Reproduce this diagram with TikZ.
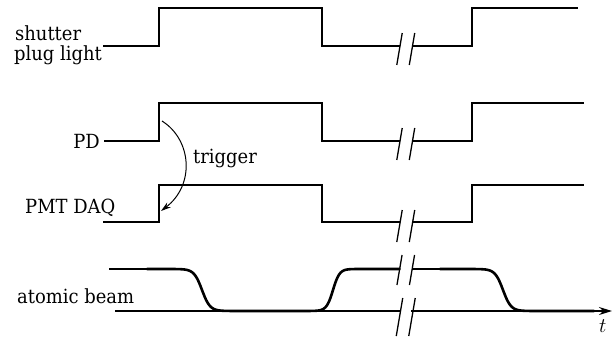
\documentclass[tikz,border=0pt]{standalone}
\usepackage{fontspec}
\setmainfont{DejaVu Serif}[FakeStretch=0.92]
\usetikzlibrary{arrows.meta}
% pair of break slashes at a given height: #1 = centre y, #2 = half length
\newcommand\slashpair[2]{%
  \draw[brk] (399.5-#2*0.17, #1+#2) -- (399.5+#2*0.17, #1-#2);
  \draw[brk] (412-#2*0.17, #1+#2) -- (412+#2*0.17, #1-#2);}
\begin{document}
\begin{tikzpicture}[x=1pt, y=-1pt,
  sig/.style={line width=1.5pt, line join=miter},
  beam/.style={line width=2.6pt, line cap=round, line join=round},
  brk/.style={line width=1.3pt},
  lbl/.style={font=\fontsize{19.5}{22}\selectfont, inner sep=0pt},
  trig/.style={line width=1pt, -{Stealth[length=10pt, width=6pt]}},
  axis/.style={line width=1.5pt, -{Stealth[length=13pt, width=8pt]}},
]
\useasboundingbox (0,0) rectangle (613,338);

% labels
\node[lbl, anchor=base west] (lshutter) at (15,40) {shutter};
\node[lbl, anchor=base west] (lplug)    at (14,60) {plug light};
\node[lbl, anchor=base east] (lpd)      at (100,148) {PD};
\node[lbl, anchor=base west] (lpmt)     at (25,213) {PMT DAQ};
\node[lbl, anchor=base west] (lbeam)    at (17,303) {atomic beam};
\node[lbl, anchor=base west] (ltrig)    at (193,163) {trigger};
\node[inner sep=0pt, anchor=base west, font=\fontsize{22}{24}\selectfont] (lt) at (599,332) {$t$};

% shutter
\draw[sig] (103,46) -- (159,46) -- (159,8) -- (322,8) -- (322,46) -- (400,46);
\draw[sig] (412,46) -- (472,46) -- (472,8) -- (578,8);
\slashpair{49}{16}

% PD
\draw[sig] (104,141) -- (159,141) -- (159,103) -- (322,103) -- (322,141) -- (400,141);
\draw[sig] (412,141) -- (472,141) -- (472,103) -- (584,103);
\slashpair{144}{16}

% PMT DAQ
\draw[sig] (103,222) -- (159,222) -- (159,185) -- (322,185) -- (322,222) -- (400,222);
\draw[sig] (412,222) -- (472,222) -- (472,185) -- (584,185);
\slashpair{226}{16}

% trigger from PD edge to PMT DAQ edge
\coordinate (trigsrc) at (162,121);
\coordinate (trigdst) at (161,211);
\draw[trig] (trigsrc) .. controls (192,140) and (195,185) .. (trigdst);

% atomic beam: time axis
\draw[sig] (115,311) -- (400,311);
\draw[axis] (411,311) -- (612,311);
\slashpair{317}{19}

% atomic beam: signal
\draw[sig] (109,269) -- (150,269);
\draw[sig] (412,269) -- (442,269);
\draw[beam] plot[domain=147:399.5, samples=220]
  (\x, {269 + 21*(tanh(max(-4,min(4,(\x-202)/8))) - tanh(max(-4,min(4,(\x-333)/6.5))))});
\draw[beam] plot[domain=440:594, samples=160]
  (\x, {269 + 21*(1 + tanh(max(-4,min(4,(\x-503)/8))))});
\slashpair{270}{15}
\end{tikzpicture}
\end{document}
